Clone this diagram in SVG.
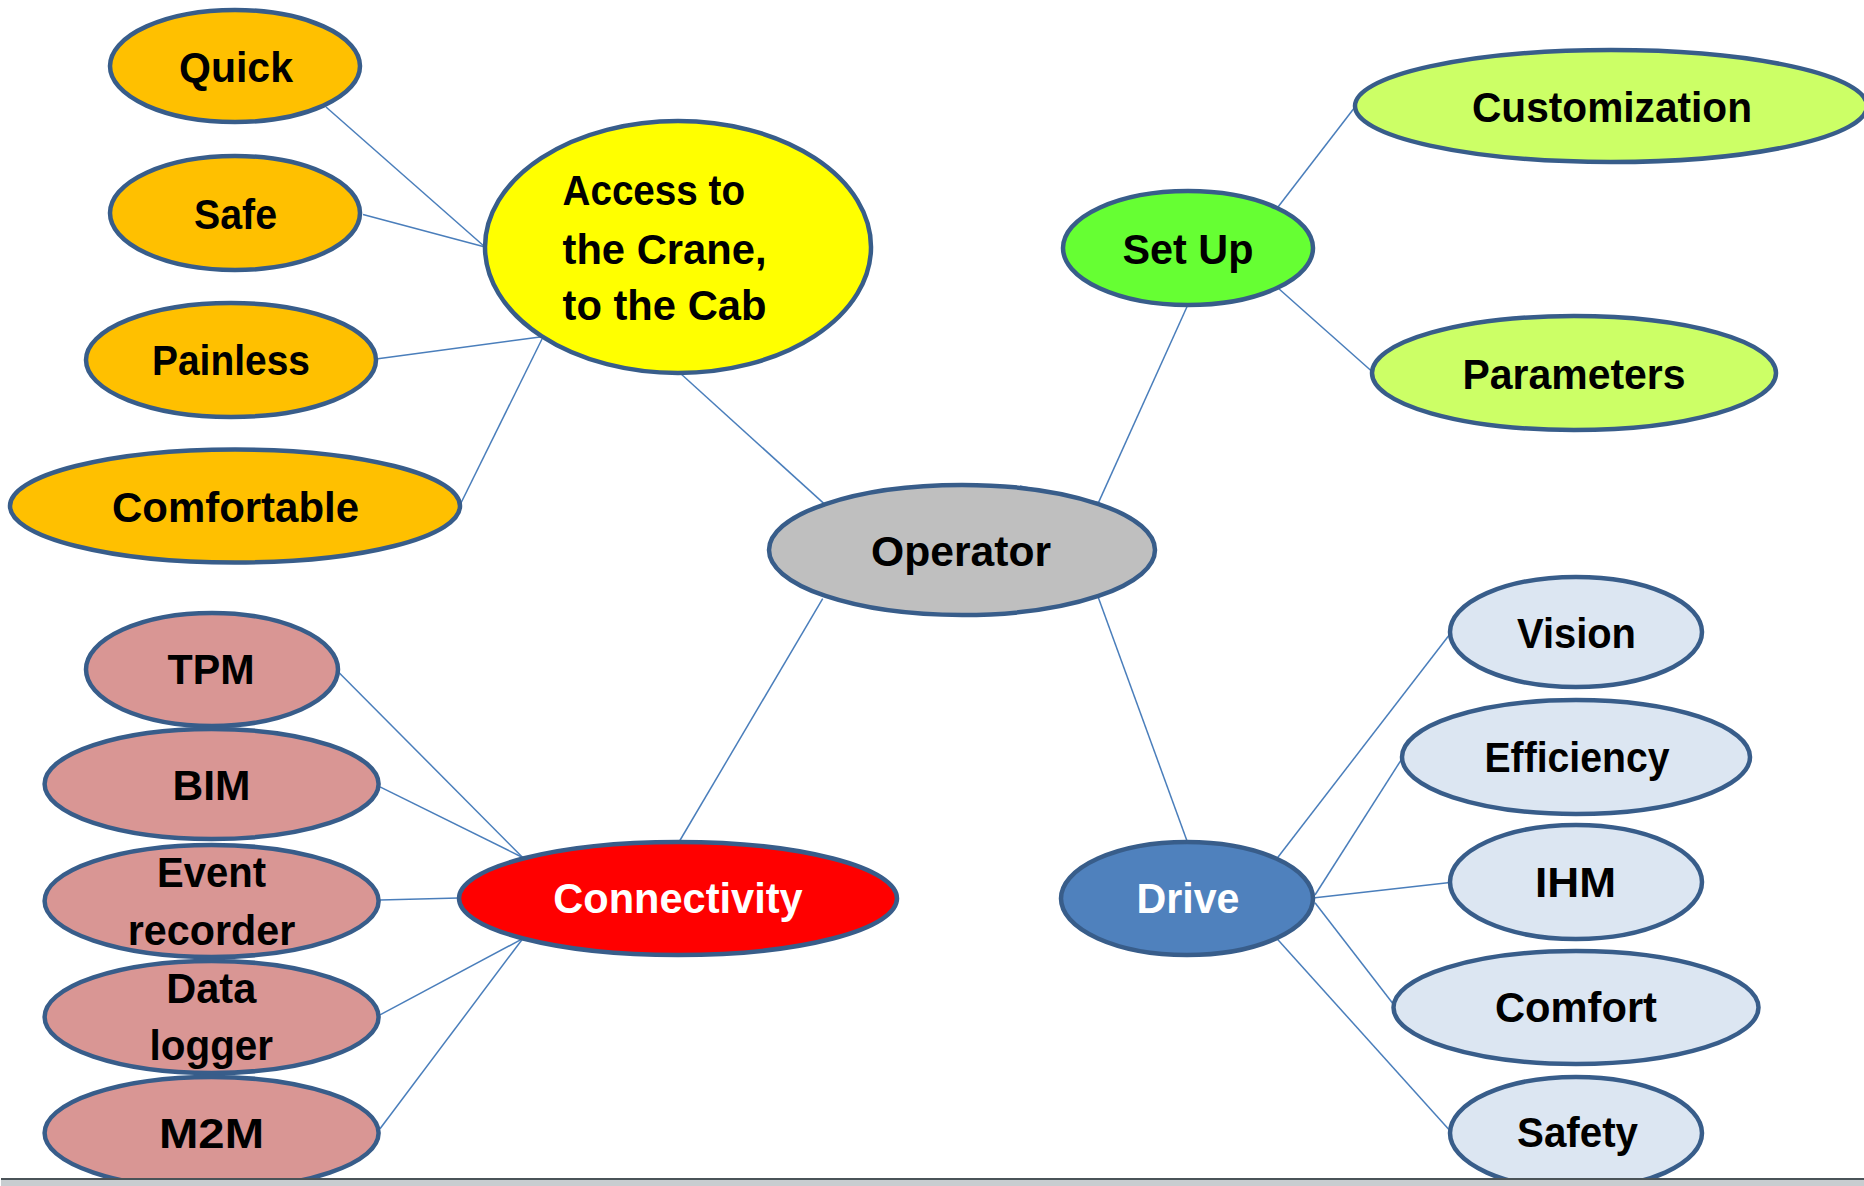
<svg xmlns="http://www.w3.org/2000/svg" width="1864" height="1186" viewBox="0 0 1864 1186">
<style>
.n{stroke:#385D8A;stroke-width:4.5}
.t{font-family:"Liberation Sans",Arial,sans-serif;font-weight:bold;font-size:42px;fill:#000;text-anchor:middle}
.w{fill:#fff}
.l{text-anchor:start}
.c line{stroke:#4A7EBB;stroke-width:1.5}
.o{fill:#FFC000}.y{fill:#FFFF00}.g{fill:#BFBFBF}.sg{fill:#66FF33}.lg{fill:#CCFF66}
.r{fill:#FF0000}.p{fill:#D99694}.b{fill:#4F81BD}.lb{fill:#DCE6F2}
</style>
<rect width="1864" height="1186" fill="#fff"/>
<g id="connectors" class="c">
<line x1="326" y1="107" x2="485" y2="247"/>
<line x1="363" y1="214.5" x2="485" y2="247"/>
<line x1="376" y1="359" x2="540" y2="337"/>
<line x1="460" y1="505" x2="542" y2="339"/>
<line x1="680" y1="373" x2="824" y2="503.6"/>
<line x1="1278" y1="207" x2="1355" y2="107"/>
<line x1="1278" y1="288" x2="1372" y2="371.5"/>
<line x1="1188" y1="304.5" x2="1098" y2="503.6"/>
<line x1="1020" y1="486" x2="1098" y2="502.5"/>
<line x1="822.7" y1="598.6" x2="679" y2="842"/>
<line x1="337.4" y1="671" x2="522.7" y2="857.5"/>
<line x1="380" y1="786.8" x2="522.7" y2="857.5"/>
<line x1="380" y1="900" x2="458.6" y2="898"/>
<line x1="380" y1="1014.8" x2="522.7" y2="938.7"/>
<line x1="380" y1="1128.8" x2="522.7" y2="938.7"/>
<line x1="1098.3" y1="597.4" x2="1187.4" y2="842"/>
<line x1="1277.7" y1="857.5" x2="1450" y2="634"/>
<line x1="1315" y1="895" x2="1402.5" y2="757.8"/>
<line x1="1315" y1="897.7" x2="1450" y2="882.6"/>
<line x1="1315" y1="902.7" x2="1394" y2="1005"/>
<line x1="1277.7" y1="939.4" x2="1450" y2="1130.8"/>
</g>
<g id="quick"><ellipse class="n o" cx="235" cy="66" rx="125" ry="56"/><text class="t" x="236" y="81.6" textLength="114" lengthAdjust="spacingAndGlyphs">Quick</text></g>
<g id="safe"><ellipse class="n o" cx="235" cy="213" rx="125" ry="57"/><text class="t" x="235.5" y="229" textLength="83" lengthAdjust="spacingAndGlyphs">Safe</text></g>
<g id="painless"><ellipse class="n o" cx="231" cy="360" rx="145" ry="57"/><text class="t" x="231" y="375" textLength="158" lengthAdjust="spacingAndGlyphs">Painless</text></g>
<g id="comfortable"><ellipse class="n o" cx="235" cy="506" rx="225" ry="56.5"/><text class="t" x="235.5" y="521.7" textLength="247" lengthAdjust="spacingAndGlyphs">Comfortable</text></g>
<g id="access"><ellipse class="n y" cx="678" cy="247" rx="193" ry="126"/>
<text class="t l" x="562.5" y="205" textLength="182.5" lengthAdjust="spacingAndGlyphs">Access to</text>
<text class="t l" x="562.5" y="263.5" textLength="204" lengthAdjust="spacingAndGlyphs">the Crane,</text>
<text class="t l" x="562.5" y="320" textLength="204" lengthAdjust="spacingAndGlyphs">to the Cab</text></g>
<g id="setup"><ellipse class="n sg" cx="1188" cy="248" rx="125" ry="57"/><text class="t" x="1188" y="263.5" textLength="131" lengthAdjust="spacingAndGlyphs">Set Up</text></g>
<g id="customization"><ellipse class="n lg" cx="1611" cy="106" rx="256" ry="56"/><text class="t" x="1612" y="121.8" textLength="280" lengthAdjust="spacingAndGlyphs">Customization</text></g>
<g id="parameters"><ellipse class="n lg" cx="1574" cy="373" rx="202" ry="57"/><text class="t" x="1574" y="388.7" textLength="223" lengthAdjust="spacingAndGlyphs">Parameters</text></g>
<g id="operator"><ellipse class="n g" cx="962" cy="550" rx="193" ry="65"/><text class="t" x="961" y="566" textLength="180" lengthAdjust="spacingAndGlyphs">Operator</text></g>
<g id="tpm"><ellipse class="n p" cx="212" cy="669.5" rx="126" ry="56.5"/><text class="t" x="211" y="683.6" textLength="87" lengthAdjust="spacingAndGlyphs">TPM</text></g>
<g id="bim"><ellipse class="n p" cx="211.6" cy="784" rx="167" ry="55"/><text class="t" x="211.5" y="799.5" textLength="78" lengthAdjust="spacingAndGlyphs">BIM</text></g>
<g id="event"><ellipse class="n p" cx="211.6" cy="901" rx="167" ry="56"/>
<text class="t" x="211.5" y="887" textLength="109" lengthAdjust="spacingAndGlyphs">Event</text>
<text class="t" x="211.5" y="945" textLength="167.5" lengthAdjust="spacingAndGlyphs">recorder</text></g>
<g id="data"><ellipse class="n p" cx="211.6" cy="1017" rx="167" ry="56"/>
<text class="t" x="211.3" y="1003" textLength="90" lengthAdjust="spacingAndGlyphs">Data</text>
<text class="t" x="211.3" y="1060" textLength="123.5" lengthAdjust="spacingAndGlyphs">logger</text></g>
<g id="m2m"><ellipse class="n p" cx="211.6" cy="1133" rx="167" ry="56"/><text class="t" x="211.5" y="1148" textLength="105" lengthAdjust="spacingAndGlyphs">M2M</text></g>
<g id="connectivity"><ellipse class="n r" cx="678" cy="898.5" rx="219" ry="56.5"/><text class="t w" x="678" y="913" textLength="249.5" lengthAdjust="spacingAndGlyphs">Connectivity</text></g>
<g id="drive"><ellipse class="n b" cx="1187" cy="898.5" rx="126" ry="56.5"/><text class="t w" x="1188" y="913" textLength="103" lengthAdjust="spacingAndGlyphs">Drive</text></g>
<g id="vision"><ellipse class="n lb" cx="1576" cy="632" rx="126" ry="55"/><text class="t" x="1576.5" y="647.6" textLength="119" lengthAdjust="spacingAndGlyphs">Vision</text></g>
<g id="efficiency"><ellipse class="n lb" cx="1576" cy="757" rx="174" ry="57"/><text class="t" x="1577" y="772" textLength="185" lengthAdjust="spacingAndGlyphs">Efficiency</text></g>
<g id="ihm"><ellipse class="n lb" cx="1576" cy="882" rx="126" ry="57"/><text class="t" x="1575.5" y="897" textLength="81" lengthAdjust="spacingAndGlyphs">IHM</text></g>
<g id="comfort"><ellipse class="n lb" cx="1576" cy="1007.5" rx="182.5" ry="56.5"/><text class="t" x="1576" y="1022" textLength="162" lengthAdjust="spacingAndGlyphs">Comfort</text></g>
<g id="safety"><ellipse class="n lb" cx="1576" cy="1133" rx="126" ry="56"/><text class="t" x="1577.5" y="1147" textLength="121" lengthAdjust="spacingAndGlyphs">Safety</text></g>
<rect x="1" y="1180" width="1863" height="6" fill="#C8CDD0"/>
<rect x="1" y="1178" width="1863" height="2" fill="#4A5358"/>
</svg>
